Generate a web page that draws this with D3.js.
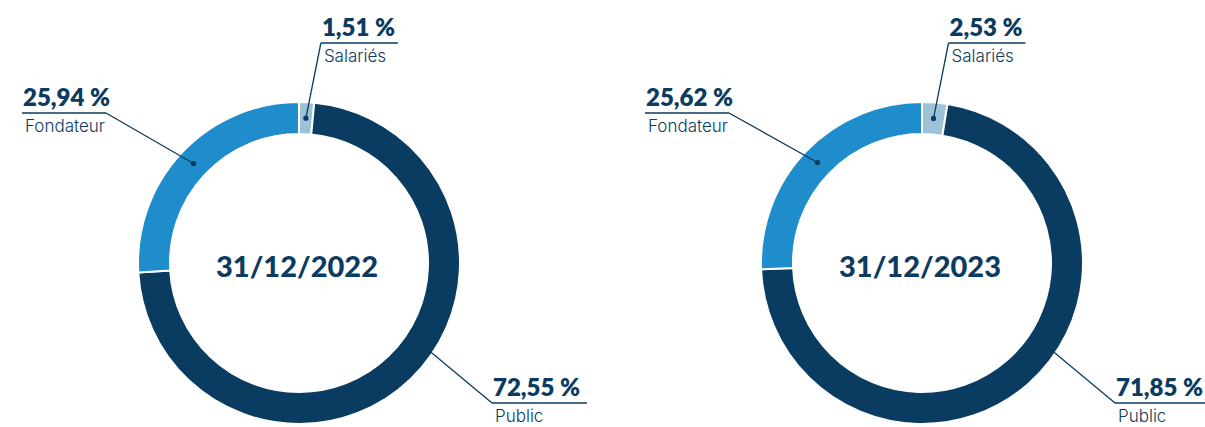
<!DOCTYPE html>
<html>
<head>
<meta charset="utf-8">
<script src="https://cdn.jsdelivr.net/npm/d3@7"></script>
<style>
  body { margin: 0; background: #fff; }
  svg { display: block; font-family: Lato, "Noto Sans", sans-serif; }
</style>
</head>
<body>
<div class="chart"></div>
<script>
// data
var dates = ["31/12/2022", "31/12/2023"];
var categories = ["Salariés", "Public", "Fondateur"];
var shares2022 = [1.51, 72.55, 25.94];
var shares2023 = [2.53, 71.85, 25.62];

var width = 1205, height = 427;
var navy = "#0b3b60";
var colors = d3.scaleOrdinal().domain(categories).range(["#9dc2d7", "#093c60", "#1f8ccb"]);

var fr = d3.formatLocale({decimal: ",", thousands: " ", grouping: [3], currency: ["", " €"]});
var fmt = function(v){ return fr.format(".2f")(v) + " %"; };

var svg = d3.select(".chart").append("svg")
  .attr("width", width).attr("height", height);

var outerR = 161, innerR = 129, midR = 145;
var arc = d3.arc().innerRadius(innerR).outerRadius(outerR);
var pie = d3.pie().sort(null).value(function(d){ return d.value; });

// label layout relative to donut center
var layout = {
  "Salariés":  {y: -220, w: 77, side: "left"},
  "Fondateur": {x: -277, y: -150, w: 84, side: "right"},
  "Public":    {x: 193, y: 140, w: 95, side: "left", angle: 123.5}
};

var centers = [299, 922];

dates.forEach(function(date, k){
  var vals = k === 0 ? shares2022 : shares2023;
  var rows = categories.map(function(c, i){ return {cat: c, value: vals[i]}; });
  var g = svg.append("g").attr("transform", "translate(" + centers[k] + ",263)");

  g.selectAll("path.slice")
    .data(pie(rows))
    .enter().append("path")
    .attr("class", "slice")
    .attr("d", arc)
    .attr("fill", function(d){ return colors(d.data.cat); })
    .attr("stroke", "#fff")
    .attr("stroke-width", 2);

  g.append("text")
    .attr("x", -2).attr("y", 14)
    .attr("text-anchor", "middle")
    .attr("fill", navy)
    .attr("font-size", 29).attr("font-weight", 900)
    .text(date);

  pie(rows).forEach(function(d){
    var L = layout[d.data.cat];
    var a = L.angle != null ? L.angle * Math.PI / 180 : (d.startAngle + d.endAngle) / 2;
    var dot = [midR * Math.sin(a), -midR * Math.cos(a)];
    var ux = L.x != null ? L.x : dot[0] + 15;
    var ex = L.side === "left" ? ux : ux + L.w;

    g.append("line")
      .attr("x1", ux).attr("x2", Math.min(ux + L.w, width - centers[k]))
      .attr("y1", L.y).attr("y2", L.y)
      .attr("stroke", navy).attr("stroke-width", 1.3);
    g.append("line")
      .attr("x1", ex).attr("y1", L.y)
      .attr("x2", dot[0]).attr("y2", dot[1])
      .attr("stroke", navy).attr("stroke-width", 1.3);
    g.append("circle")
      .attr("cx", dot[0]).attr("cy", dot[1]).attr("r", 2.6)
      .attr("fill", navy);

    g.append("text")
      .attr("x", ux + 1).attr("y", L.y - 7)
      .attr("fill", navy)
      .attr("font-size", 24).attr("font-weight", 800)
      .text(fmt(d.data.value));
    g.append("text")
      .attr("x", ux + 3).attr("y", L.y + 19)
      .attr("fill", navy)
      .attr("font-family", "Inter, Lato, sans-serif")
      .attr("font-size", 17).attr("font-weight", 300)
      .text(d.data.cat);
  });
});
</script>
</body>
</html>
